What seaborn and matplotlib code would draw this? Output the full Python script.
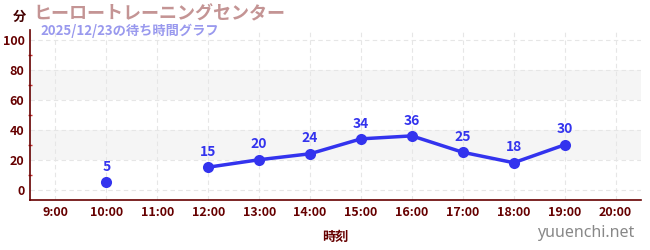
import matplotlib
matplotlib.use("Agg")
import matplotlib.pyplot as plt
import seaborn as sns
import numpy as np
import pandas as pd
from matplotlib.ticker import MultipleLocator

hours = [9, 10, 11, 12, 13, 14, 15, 16, 17, 18, 19, 20]
tick_labels = ["9:00", "10:00", "11:00", "12:00", "13:00", "14:00", "15:00",
               "16:00", "17:00", "18:00", "19:00", "20:00"]
wait = [np.nan, 5, np.nan, 15, 20, 24, 34, 36, 25, 18, 30, np.nan]

title = "ヒーロートレーニングセンター"
subtitle = "2025/12/23の待ち時間グラフ"

sns.set_theme(style="white")
plt.rcParams['font.family'] = ['Noto Sans CJK JP', 'DejaVu Sans']

df = pd.DataFrame({"hour": hours, "wait": wait})
# segment ids so gaps (missing values) break the line
df["seg"] = df["wait"].isna().cumsum()
df = df.dropna()

fig = plt.figure(figsize=(6.5, 2.5), dpi=100)
ax = fig.add_axes([30/650, 50/250, 611/650, 170/250])

axc = "#660000"
ax.set_xlim(8.5, 20.5)
ax.set_ylim(-7, 107)

for lo, hi in [(20, 40), (60, 80)]:
    ax.axhspan(lo, hi, color="#f5f5f5", zorder=0, lw=0)

ax.set_xticks(hours)
ax.set_xticklabels(tick_labels)
ax.set_yticks([0, 20, 40, 60, 80, 100])
ax.yaxis.set_minor_locator(MultipleLocator(10))
ax.grid(True, which="major", color="#e6e6e6", linestyle=(0, (4, 3)), lw=0.8)
ax.set_axisbelow(True)

blue = "#3333ee"
sns.lineplot(data=df, x="hour", y="wait", units="seg", estimator=None, ax=ax,
             color=blue, lw=2.5, marker="o", markersize=8, markeredgewidth=0,
             zorder=3, legend=False)
for h, w in zip(df["hour"], df["wait"]):
    ax.annotate(f"{int(w)}", (h, w), xytext=(0, 6), textcoords="offset points",
                ha="center", va="bottom", color=blue, fontsize=10,
                fontweight="bold")

for s in ["top", "right"]:
    ax.spines[s].set_visible(False)
for s in ["left", "bottom"]:
    ax.spines[s].set_color(axc)
    ax.spines[s].set_linewidth(1.2)

ax.tick_params(axis="both", which="major", length=4, width=1, colors="#777777",
               labelcolor=axc, labelsize=9, direction="inout", pad=2)
ax.tick_params(axis="y", which="minor", length=3, width=1, colors="#cc3333",
               direction="inout", left=True)
ax.tick_params(axis="y", which="major", colors="#222222", labelcolor=axc)
for lab in ax.get_xticklabels() + ax.get_yticklabels():
    lab.set_fontweight("bold")

ax.set_xlabel("時刻", color=axc, fontsize=9.5, fontweight="bold", labelpad=8)
ax.set_ylabel("")

fig.text(13/650, 1 - 17/250, "分", color="#440000", fontsize=9.5, fontweight="bold",
         ha="left", va="center")
fig.text(33/650, 1 - 14/250, title, color="#c49494", fontsize=13, fontweight="bold",
         ha="left", va="center")
fig.text(40/650, 1 - 31/250, subtitle, color="#9999ee", fontsize=9.5, fontweight="bold",
         ha="left", va="center")
fig.text(634/650, 1 - 233/250, "yuuenchi.net", color="#888888", fontsize=11.5,
         ha="right", va="center", family=["Noto Sans", "DejaVu Sans"])

fig.savefig("out.png", dpi=100)
